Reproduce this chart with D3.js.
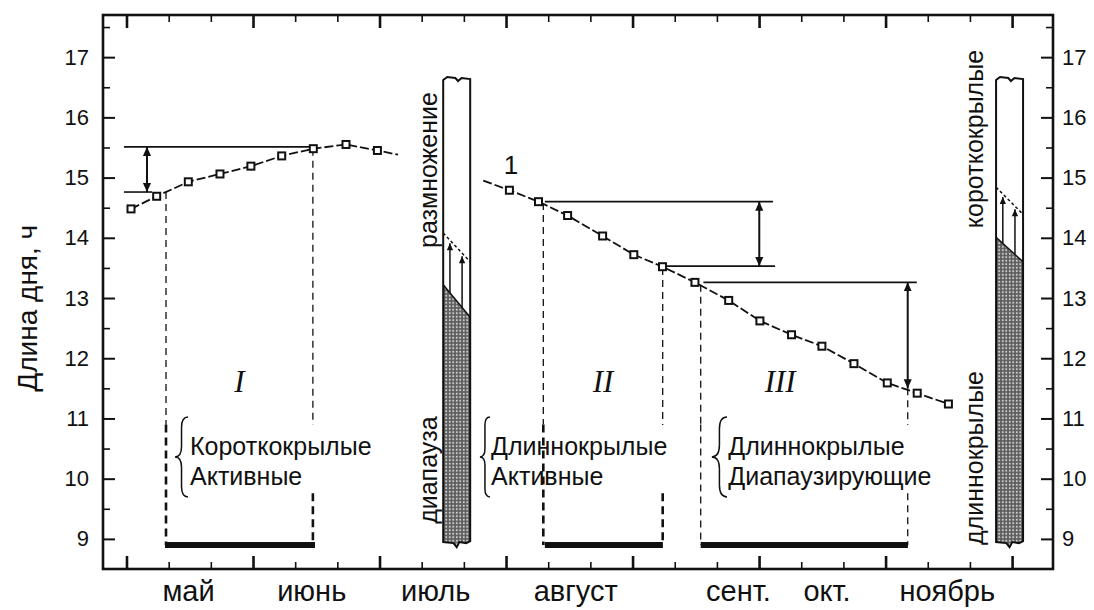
<!DOCTYPE html>
<html><head><meta charset="utf-8">
<script src="https://cdn.jsdelivr.net/npm/d3@7"></script>
<style>
body{margin:0;background:#fff}
svg{display:block}
text{fill:#111}
</style></head>
<body><svg id="c" width="1094" height="610" font-family="Liberation Sans, Arial, sans-serif"></svg>
<script>
// ---------- data ----------
// x in "decades" (10-day periods) counted from 1 May
const hourTicks = [9,10,11,12,13,14,15,16,17];
const halfTicks = [9.5,10.5,11.5,12.5,13.5,14.5,15.5,16.5,17.5];
const decadeTicks = d3.range(0,22);
const months = ["май","июнь","июль","август","сент.","окт.","ноябрь"];
const monthPos = [1.46,4.38,7.32,10.64,14.5,16.6,19.45];

// curve 1 (day length), spring part
const springX = [0.107,0.716,1.466,2.217,2.95,3.68,4.43,5.205,5.95];
const springY = [14.48,14.69,14.93,15.06,15.19,15.36,15.48,15.55,15.45];
const springTail = [6.44,15.38];
// autumn part
const autumnHead = [8.46,14.95];
const autumnX = [9.08,9.77,10.46,11.29,12.03,12.71,13.48,14.28,15.02,15.77,16.49,17.25,18.04,18.75,19.49];
const autumnY = [14.79,14.60,14.37,14.03,13.72,13.52,13.26,12.96,12.62,12.39,12.20,11.91,11.59,11.42,11.24];

// periods I, II, III
const periodNames = ["I","II","III"];
const periodStart = [0.913,9.92,13.616];
const periodEnd = [4.47,12.72,18.53];
const periodLevel = 8.9;
const guideX = [0.937,4.42,9.884,12.715,13.616,18.525];
const guideTop = [14.76,15.48,14.58,13.50,13.22,11.50];

// thresholds (horizontal reference lines)
const refLevel = [15.51,14.76,14.60,13.53,13.26];
const refFrom = [-0.06,-0.06,9.92,12.81,13.68];
const refTo = [4.42,0.605,15.33,15.38,18.74];
// double arrows: x, from, to
const arrowX = [0.486,15.005,18.525];
const arrowFrom = [15.51,14.60,13.26];
const arrowTo = [14.76,13.53,11.50];

// photoperiod columns
const colLeft = [7.51,20.62];
const colRight = [8.15,21.26];
const colTop = [16.67,16.67];
const colBottom = [8.93,8.93];
const hatchL = [13.22,14.01];
const hatchR = [12.68,13.60];
const dashL = [14.08,14.84];
const dashR = [13.60,14.39];

// ---------- scales ----------
const svg = d3.select("#c");
const x = d3.scaleLinear().domain([-0.557,21.97]).range([103,1053]);
const y = d3.scaleLinear().domain([8.5,17.7]).range([569,15]);
const [X0,X1] = x.range(), [Y0,Y1] = [y.range()[1], y.range()[0]];
const SANS = "Liberation Sans, Arial, sans-serif";

const defs = svg.append("defs");
const pat = defs.append("pattern").attr("id","stip").attr("patternUnits","userSpaceOnUse")
  .attr("width",3.5).attr("height",3.5);
pat.append("rect").attr("width",3.5).attr("height",3.5).attr("fill","#5e5e5e");
pat.append("circle").attr("cx",1.75).attr("cy",1.75).attr("r",1).attr("fill","#d6d6d6");
defs.append("marker").attr("id","ah").attr("viewBox","0 0 10 10").attr("refX",10).attr("refY",5)
  .attr("markerWidth",9).attr("markerHeight",9).attr("markerUnits","userSpaceOnUse")
  .attr("orient","auto-start-reverse")
  .append("path").attr("d","M0,0.5L10,5L0,9.5Z").attr("fill","#111");
defs.append("marker").attr("id","ahs").attr("viewBox","0 0 10 10").attr("refX",10).attr("refY",5)
  .attr("markerWidth",8).attr("markerHeight",7).attr("markerUnits","userSpaceOnUse")
  .attr("orient","auto")
  .append("path").attr("d","M0,0.5L10,5L0,9.5Z").attr("fill","#111");

// ---------- axes ----------
function clean(g){ g.select(".domain").remove(); g.selectAll("line").attr("stroke","#111"); }
function lbl(g,size){ g.attr("font-family",SANS).attr("font-size",size); g.selectAll("text").attr("fill","#111"); }

svg.append("g").attr("transform",`translate(${X0},0)`)
  .call(d3.axisLeft(y).tickValues(hourTicks).tickSize(-12).tickPadding(14))
  .call(clean).call(g=>lbl(g,22)).call(g=>g.selectAll("line").attr("stroke-width",2));
svg.append("g").attr("transform",`translate(${X0},0)`)
  .call(d3.axisLeft(y).tickValues(halfTicks).tickSize(-7).tickFormat(""))
  .call(clean).call(g=>g.selectAll("line").attr("stroke-width",1.6));
svg.append("g").attr("transform",`translate(${X1},0)`)
  .call(d3.axisRight(y).tickValues(hourTicks).tickSize(-12).tickPadding(9))
  .call(clean).call(g=>lbl(g,22)).call(g=>g.selectAll("line").attr("stroke-width",2));
svg.append("g").attr("transform",`translate(${X1},0)`)
  .call(d3.axisRight(y).tickValues(halfTicks).tickSize(-7).tickFormat(""))
  .call(clean).call(g=>g.selectAll("line").attr("stroke-width",1.6));

const minorDec = decadeTicks.filter(d=>d%3!==0), majorDec = decadeTicks.filter(d=>d%3===0);
[[d3.axisBottom,Y1],[d3.axisTop,Y0]].forEach(([ax,pos])=>{
  svg.append("g").attr("transform",`translate(0,${pos})`)
    .call(ax(x).tickValues(minorDec).tickSize(-7).tickFormat(""))
    .call(clean).call(g=>g.selectAll("line").attr("stroke-width",1.6));
  svg.append("g").attr("transform",`translate(0,${pos})`)
    .call(ax(x).tickValues(majorDec).tickSize(-13).tickFormat(""))
    .call(clean).call(g=>g.selectAll("line").attr("stroke-width",2.6));
});
svg.append("g").attr("transform",`translate(0,${Y1})`)
  .call(d3.axisBottom(x).tickValues(monthPos).tickSize(0).tickPadding(11).tickFormat((d,i)=>months[i]))
  .call(clean).call(g=>lbl(g,29));

// frame
svg.append("rect").attr("x",X0).attr("y",Y0).attr("width",X1-X0).attr("height",Y1-Y0)
  .attr("fill","none").attr("stroke","#111").attr("stroke-width",2.6);

// y title
svg.append("text").attr("transform",`translate(37,${y(12.83)}) rotate(-90)`)
  .attr("text-anchor","middle").attr("font-size",28).text("Длина дня, ч");

// ---------- reference lines ----------
refLevel.forEach((v,i)=>{
  svg.append("line").attr("x1",x(refFrom[i])).attr("x2",x(refTo[i])).attr("y1",y(v)).attr("y2",y(v))
    .attr("stroke","#111").attr("stroke-width",1.6);
});
arrowX.forEach((a,i)=>{
  svg.append("line").attr("x1",x(a)).attr("x2",x(a)).attr("y1",y(arrowFrom[i])).attr("y2",y(arrowTo[i]))
    .attr("stroke","#111").attr("stroke-width",2).attr("marker-start","url(#ah)").attr("marker-end","url(#ah)");
});

// guide dashed verticals
const gapTop = 10.89, gapBot = 9.76, thickFrom = 10.9;
guideX.forEach((gx,i)=>{
  const isRight = i%2===1, heavy = i<4;
  const segs = [];
  if(isRight){ segs.push([guideTop[i],gapTop,false]); segs.push([gapBot,periodLevel,heavy]); }
  else { segs.push([guideTop[i],thickFrom,false]); segs.push([thickFrom,periodLevel,heavy]); }
  segs.forEach(([a,b,hv])=>{
    svg.append("line").attr("x1",x(gx)).attr("x2",x(gx)).attr("y1",y(a)).attr("y2",y(b))
      .attr("stroke","#111").attr("stroke-width",hv?2.6:1.3).attr("stroke-dasharray",hv?"8,5":"7,5");
  });
});
// period bars
periodStart.forEach((s,i)=>{
  svg.append("line").attr("x1",x(s)).attr("x2",x(periodEnd[i])).attr("y1",y(periodLevel)).attr("y2",y(periodLevel))
    .attr("stroke","#111").attr("stroke-width",6);
});
const romanX = [2.68,11.3,15.5];
periodNames.forEach((n,i)=>{
  svg.append("text").attr("x",x(romanX[i])).attr("y",y(11.44)).attr("text-anchor","middle")
    .attr("font-family","Liberation Serif, Times New Roman, serif").attr("font-style","italic")
    .attr("font-size",31).text(n);
});

// ---------- curve ----------
const line = d3.line().x(d=>x(d[0])).y(d=>y(d[1]));
const spring = springX.map((d,i)=>[d,springY[i]]);
const autumn = autumnX.map((d,i)=>[d,autumnY[i]]);
svg.append("path").attr("d",line(spring.concat([springTail]))).attr("fill","none")
  .attr("stroke","#111").attr("stroke-width",1.8).attr("stroke-dasharray","9,3");
svg.append("path").attr("d",line([autumnHead].concat(autumn))).attr("fill","none")
  .attr("stroke","#111").attr("stroke-width",1.8).attr("stroke-dasharray","9,3");
svg.selectAll("rect.pt").data(spring.concat(autumn)).enter().append("rect").attr("class","pt")
  .attr("x",d=>x(d[0])-3.5).attr("y",d=>y(d[1])-3.5).attr("width",7).attr("height",7)
  .attr("fill","#fff").attr("stroke","#111").attr("stroke-width",2);
svg.append("text").attr("x",x(9.12)).attr("y",y(15.06)).attr("text-anchor","middle")
  .attr("font-size",26).text("1");

// ---------- annotations ----------
function brace(xc,xe,y0,y1){
  const q=(xe-xc)/2, xm=xc+q, ym=(y0+y1)/2, r=Math.max(q*1.6,5);
  return `M${xe},${y0} Q${xm},${y0} ${xm},${y0+r} L${xm},${ym-r} Q${xm},${ym} ${xc},${ym} Q${xm},${ym} ${xm},${ym+r} L${xm},${y1-r} Q${xm},${y1} ${xe},${y1}`;
}
const braceC = [1.15,8.38,13.88], braceE = [1.46,8.62,14.24], textX = [1.506,8.645,14.27];
const line1 = ["Короткокрылые","Длиннокрылые","Длиннокрылые"];
const line2 = ["Активные","Активные","Диапаузирующие"];
braceC.forEach((c,i)=>{
  svg.append("path").attr("d",brace(x(c),x(braceE[i]),y(11.025),y(9.697)))
    .attr("fill","none").attr("stroke","#111").attr("stroke-width",1.5);
  svg.append("text").attr("x",x(textX[i])).attr("y",y(10.394)).attr("font-size",25).text(line1[i]);
  svg.append("text").attr("x",x(textX[i])).attr("y",y(9.896)).attr("font-size",25).text(line2[i]);
});

// ---------- photoperiod columns ----------
colLeft.forEach((l,i)=>{
  const x0=x(l), x1=x(colRight[i]), yt=y(colTop[i]), yb=y(colBottom[i]), w=x1-x0;
  const outline = `M${x0},${yt+3} L${x0+w*0.15},${yt} L${x0+w*0.45},${yt+1} L${x0+w*0.55},${yt+4} L${x0+w*0.68},${yt+1} L${x1},${yt+2}`+
    ` L${x1},${yb-2} L${x0+w*0.85},${yb} L${x0+w*0.6},${yb-1} L${x0+w*0.5},${yb+4} L${x0+w*0.38},${yb} L${x0},${yb-1} Z`;
  const cid = "clip"+i;
  defs.append("clipPath").attr("id",cid).append("path").attr("d",outline);
  svg.append("path").attr("d",outline).attr("fill","#fff");
  svg.append("path").attr("clip-path",`url(#${cid})`)
    .attr("d",`M${x0},${y(hatchL[i])} L${x1},${y(hatchR[i])} L${x1},${yb+10} L${x0},${yb+10} Z`)
    .attr("fill","url(#stip)");
  svg.append("line").attr("x1",x0).attr("x2",x1).attr("y1",y(hatchL[i])).attr("y2",y(hatchR[i]))
    .attr("stroke","#111").attr("stroke-width",1.5);
  svg.append("line").attr("x1",x0).attr("x2",x1).attr("y1",y(dashL[i])).attr("y2",y(dashR[i]))
    .attr("stroke","#111").attr("stroke-width",1.5).attr("stroke-dasharray","3,2.5");
  svg.append("path").attr("d",outline).attr("fill","none").attr("stroke","#111").attr("stroke-width",2);
  [0.25,0.7].forEach(f=>{
    const ax=x0+w*f;
    const ys=y(hatchL[i])+(y(hatchR[i])-y(hatchL[i]))*f, ye=y(dashL[i])+(y(dashR[i])-y(dashL[i]))*f;
    svg.append("line").attr("x1",ax).attr("x2",ax).attr("y1",ys).attr("y2",ye+3)
      .attr("stroke","#111").attr("stroke-width",1.5).attr("marker-end","url(#ahs)");
  });
});
function vtext(d,v,anchor,t){
  svg.append("text").attr("transform",`translate(${x(d)},${y(v)}) rotate(-90)`)
    .attr("text-anchor",anchor).attr("font-size",25).text(t);
}
vtext(7.363,16.42,"end","размножение");
vtext(7.363,9.25,"start","диапауза");
vtext(20.31,17.12,"end","короткокрылые");
vtext(20.31,8.9,"start","длиннокрылые");
</script></body></html>
